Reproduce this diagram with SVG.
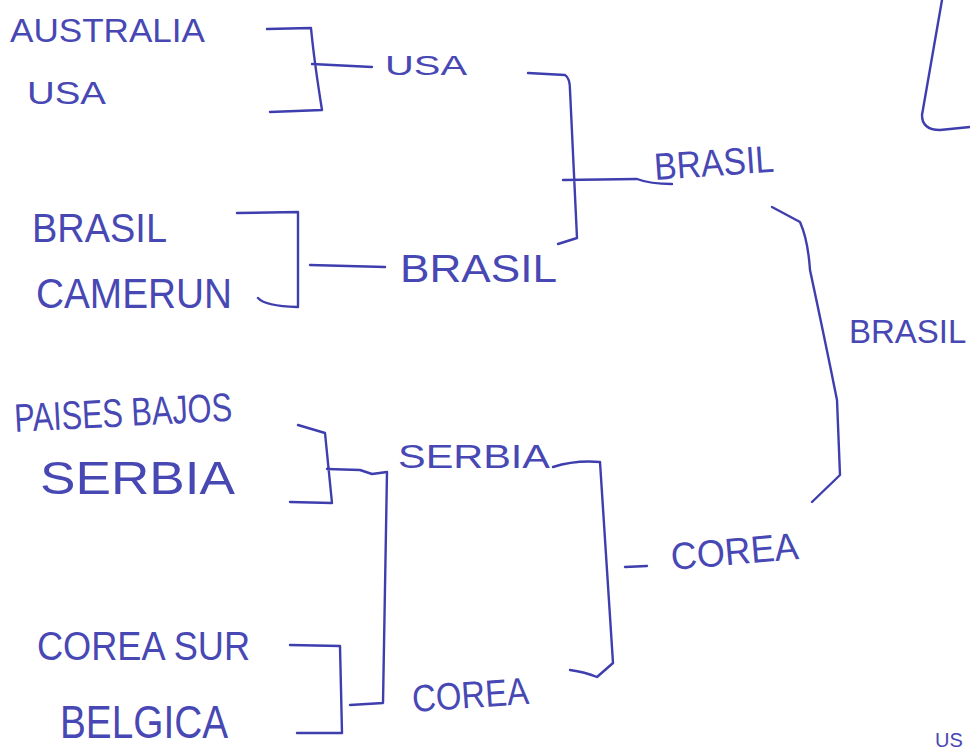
<svg xmlns="http://www.w3.org/2000/svg" width="970" height="754" viewBox="0 0 970 754">
<style>
.t{font-family:"Liberation Sans",Arial,sans-serif;fill:#4848b4}
.c{fill:none;stroke:#3e3eae;stroke-width:2.4;stroke-linecap:round;stroke-linejoin:round}
</style>
<rect width="970" height="754" fill="#ffffff"/>
<g id="connectors" class="c">
<path d="M267,29 L311,28 Q314,60 322,110 M270,112 L322,110 M312,64 L372,67"/>
<path d="M528,73 L565,75 Q570,78 570,90 L577,238 L558,244 M563,180 L637,179 Q650,184 672,184"/>
<path d="M237,213 L298,212 L298,307 M258,298 Q265,306 297,307 M310,265 L385,267"/>
<path d="M298,425 L325,433 L332,503 M290,502 L332,503 M327,469 L360,470 L372,474 L387,472 L383,703 L350,705"/>
<path d="M290,645 L340,646 L342,733 M297,733 L342,733"/>
<path d="M553,467 Q575,460 600,462 L613,663 L597,677 Q585,672 570,670 M625,567 L647,566"/>
<path d="M772,207 L800,222 Q808,240 810,270 Q825,340 837,400 L840,475 L812,502"/>
<path d="M942,0 L922,115 Q922,130 940,130 L970,127"/>
</g>
<g id="n-australia"><text class="t" x="10" y="42" font-size="34" textLength="195" lengthAdjust="spacingAndGlyphs">AUSTRALIA</text></g>
<g id="n-usa1"><text class="t" x="27" y="104" font-size="32" textLength="79" lengthAdjust="spacingAndGlyphs">USA</text></g>
<g id="n-usa2"><text class="t" x="385" y="75" font-size="27" textLength="82" lengthAdjust="spacingAndGlyphs">USA</text></g>
<g id="n-brasil1"><text class="t" x="32" y="242" font-size="40" textLength="135" lengthAdjust="spacingAndGlyphs">BRASIL</text></g>
<g id="n-camerun"><text class="t" x="36" y="308" font-size="42" textLength="196" lengthAdjust="spacingAndGlyphs">CAMERUN</text></g>
<g id="n-brasil2"><text class="t" x="400" y="282" font-size="38" textLength="157" lengthAdjust="spacingAndGlyphs">BRASIL</text></g>
<g id="n-paises"><text class="t" x="15" y="432" font-size="40" textLength="218" lengthAdjust="spacingAndGlyphs" transform="rotate(-3 15 432)">PAISES BAJOS</text></g>
<g id="n-serbia1"><text class="t" x="40" y="494" font-size="46" textLength="195" lengthAdjust="spacingAndGlyphs">SERBIA</text></g>
<g id="n-serbia2"><text class="t" x="398" y="468" font-size="34" textLength="152" lengthAdjust="spacingAndGlyphs">SERBIA</text></g>
<g id="n-coreasur"><text class="t" x="37" y="660" font-size="40" textLength="213" lengthAdjust="spacingAndGlyphs">COREA SUR</text></g>
<g id="n-belgica"><text class="t" x="60" y="738" font-size="46" textLength="168" lengthAdjust="spacingAndGlyphs">BELGICA</text></g>
<g id="n-corea2"><text class="t" x="413" y="712" font-size="38" textLength="117" lengthAdjust="spacingAndGlyphs" transform="rotate(-4 413 712)">COREA</text></g>
<g id="n-brasil3"><text class="t" x="655" y="180" font-size="38" textLength="120" lengthAdjust="spacingAndGlyphs" transform="rotate(-4 655 180)">BRASIL</text></g>
<g id="n-brasil4"><text class="t" x="849" y="343" font-size="33">BRASIL</text></g>
<g id="n-corea3"><text class="t" x="672" y="570" font-size="38" textLength="128" lengthAdjust="spacingAndGlyphs" transform="rotate(-5 672 570)">COREA</text></g>
<g id="n-us"><text class="t" x="935" y="747" font-size="20">US</text></g>
</svg>
